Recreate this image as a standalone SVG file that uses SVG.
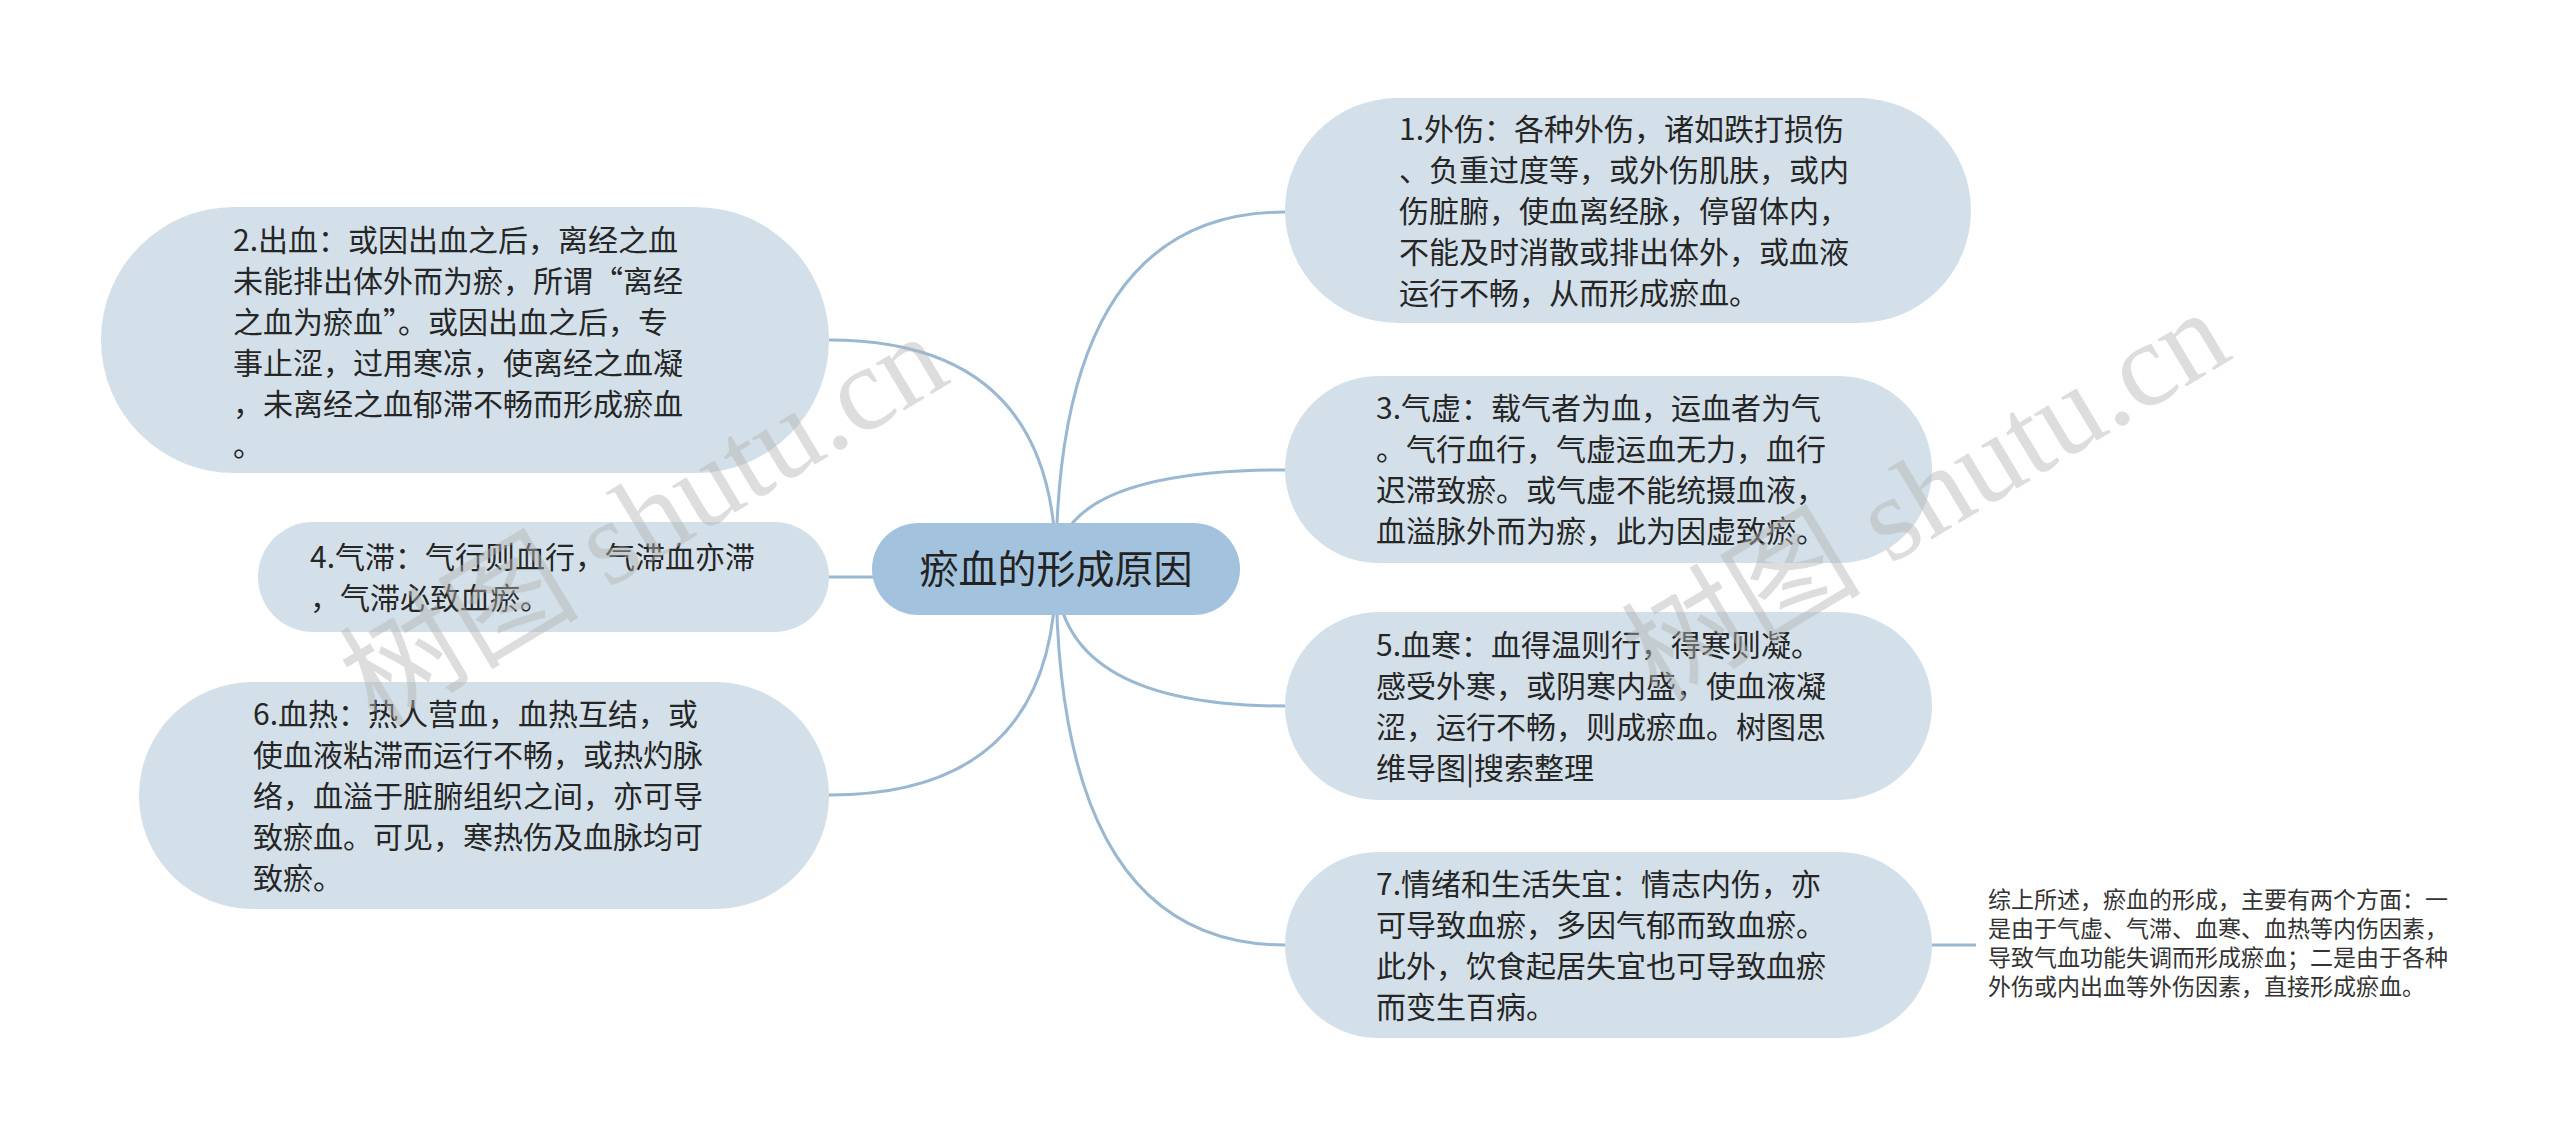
<svg xmlns="http://www.w3.org/2000/svg" width="2560" height="1138" viewBox="0 0 2560 1138">
<style>
.node{fill:#d3e0e9;}
.root{fill:#a3c2de;}
.t{font-family:"Noto Sans CJK SC","Microsoft YaHei",sans-serif;font-size:30px;fill:#262626;}
.rt{font-family:"Noto Sans CJK SC",sans-serif;font-size:39px;fill:#222;}
.s{font-family:"Noto Sans CJK SC",sans-serif;font-size:23px;fill:#333;}
.c{fill:none;stroke:#9ab8d2;stroke-width:3;}
.wm{font-family:"Liberation Serif","Noto Sans CJK SC",serif;font-size:120px;fill:#b4b4b4;opacity:0.45;}
</style>
<rect width="2560" height="1138" fill="#fff"/>
<g id="connectors">
<path class="c" d="M1056 569 Q1056 212 1285 212"/>
<path class="c" d="M1056 569 Q1056 470 1285 470"/>
<path class="c" d="M1056 569 Q1056 706 1285 706"/>
<path class="c" d="M1056 569 Q1056 945 1285 945"/>
<path class="c" d="M1056 569 Q1056 340 829 340"/>
<path class="c" d="M1056 569 Q1056 577 829 577"/>
<path class="c" d="M1056 569 Q1056 795 829 795"/>
<path class="c" d="M1932 945 L1976 945"/>
</g>
<g id="root">
<rect class="root" x="872" y="523" width="368" height="92" rx="46"/>
<text class="rt" x="1056" y="583" text-anchor="middle">瘀血的形成原因</text>
</g>
<g id="n1">
<rect class="node" x="1285" y="98" width="686" height="225" rx="112.5"/>
<text class="t"><tspan x="1399" y="140">1.外伤：各种外伤，诸如跌打损伤</tspan><tspan x="1399" y="181">、负重过度等，或外伤肌肤，或内</tspan><tspan x="1399" y="222">伤脏腑，使血离经脉，停留体内，</tspan><tspan x="1399" y="263">不能及时消散或排出体外，或血液</tspan><tspan x="1399" y="304">运行不畅，从而形成瘀血。</tspan></text>
</g>
<g id="n2">
<rect class="node" x="101" y="207" width="728" height="266" rx="133"/>
<text class="t"><tspan x="233" y="251">2.出血：或因出血之后，离经之血</tspan><tspan x="233" y="292">未能排出体外而为瘀，所谓“离经</tspan><tspan x="233" y="333">之血为瘀血”。或因出血之后，专</tspan><tspan x="233" y="374">事止涩，过用寒凉，使离经之血凝</tspan><tspan x="233" y="415">，未离经之血郁滞不畅而形成瘀血</tspan><tspan x="233" y="456">。</tspan></text>
</g>
<g id="n3">
<rect class="node" x="1285" y="376" width="647" height="187" rx="93.5"/>
<text class="t"><tspan x="1376" y="419">3.气虚：载气者为血，运血者为气</tspan><tspan x="1376" y="460">。气行血行，气虚运血无力，血行</tspan><tspan x="1376" y="501">迟滞致瘀。或气虚不能统摄血液，</tspan><tspan x="1376" y="542">血溢脉外而为瘀，此为因虚致瘀。</tspan></text>
</g>
<g id="n4">
<rect class="node" x="258" y="522" width="571" height="110" rx="55"/>
<text class="t"><tspan x="310" y="568">4.气滞：气行则血行，气滞血亦滞</tspan><tspan x="310" y="609">，气滞必致血瘀。</tspan></text>
</g>
<g id="n5">
<rect class="node" x="1285" y="612" width="647" height="188" rx="94"/>
<text class="t"><tspan x="1376" y="656">5.血寒：血得温则行，得寒则凝。</tspan><tspan x="1376" y="697">感受外寒，或阴寒内盛，使血液凝</tspan><tspan x="1376" y="738">涩，运行不畅，则成瘀血。树图思</tspan><tspan x="1376" y="779">维导图|搜索整理</tspan></text>
</g>
<g id="n6">
<rect class="node" x="139" y="682" width="690" height="227" rx="113.5"/>
<text class="t"><tspan x="253" y="725">6.血热：热人营血，血热互结，或</tspan><tspan x="253" y="766">使血液粘滞而运行不畅，或热灼脉</tspan><tspan x="253" y="807">络，血溢于脏腑组织之间，亦可导</tspan><tspan x="253" y="848">致瘀血。可见，寒热伤及血脉均可</tspan><tspan x="253" y="889">致瘀。</tspan></text>
</g>
<g id="n7">
<rect class="node" x="1285" y="852" width="647" height="186" rx="93"/>
<text class="t"><tspan x="1376" y="895">7.情绪和生活失宜：情志内伤，亦</tspan><tspan x="1376" y="936">可导致血瘀，多因气郁而致血瘀。</tspan><tspan x="1376" y="977">此外，饮食起居失宜也可导致血瘀</tspan><tspan x="1376" y="1018">而变生百病。</tspan></text>
</g>
<g id="summary">
<text class="s"><tspan x="1988" y="908">综上所述，瘀血的形成，主要有两个方面：一</tspan><tspan x="1988" y="937">是由于气虚、气滞、血寒、血热等内伤因素，</tspan><tspan x="1988" y="966">导致气血功能失调而形成瘀血；二是由于各种</tspan><tspan x="1988" y="995">外伤或内出血等外伤因素，直接形成瘀血。</tspan></text>
</g>
<g id="watermark">
<text class="wm" x="645" y="560" text-anchor="middle" transform="rotate(-31 645 522)">树图 shutu.cn</text>
<text class="wm" x="1927" y="536" text-anchor="middle" transform="rotate(-31 1927 498)">树图 shutu.cn</text>
</g>
</svg>
